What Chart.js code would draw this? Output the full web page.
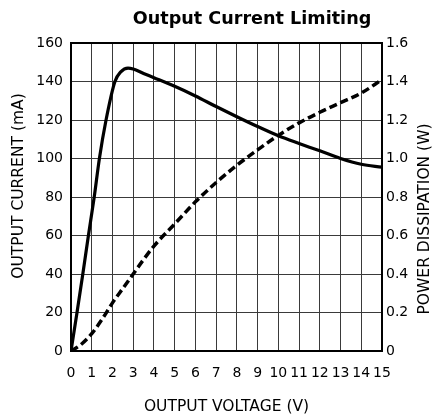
<!doctype html>
<html lang="en">
<head>
  <meta charset="utf-8">
  <title>Output Current Limiting</title>
  <style>
    html, body { margin: 0; padding: 0; background: #fff; }
    #wrap { width: 437px; height: 419px; }
  </style>
</head>
<body>
  <div id="wrap"><canvas id="myChart"></canvas></div>
  <script src="https://cdn.jsdelivr.net/npm/chart.js"></script>
  <script>
    // output current (mA) vs output voltage (V)
    const currentVolts = [0, 0.29, 0.57, 0.84, 1.12, 1.37, 1.69, 2.12, 2.4, 2.75, 3.0, 3.5, 4, 5, 6, 7, 8, 9, 10, 11, 12, 13, 14, 15];
    const currentMA = [0, 20, 40, 60, 80, 100, 120, 140, 145, 147, 146.5, 144.2, 142, 137.5, 132.5, 127, 121.7, 116.6, 111.8, 107.8, 104, 100, 97, 95.5];

    // power dissipation (W) vs output voltage (V)
    const powerVolts = [0, 0.5, 1, 1.5, 2, 2.5, 3, 3.5, 4, 5, 6, 7, 8, 9, 10, 11, 12, 13, 14, 15];
    const powerW = [0, 0.035, 0.09, 0.165, 0.25, 0.325, 0.4, 0.475, 0.545, 0.66, 0.775, 0.875, 0.965, 1.045, 1.12, 1.185, 1.24, 1.29, 1.34, 1.41];

    const titleText = 'Output Current Limiting';
    const xTitle = 'OUTPUT VOLTAGE (V)';
    const yTitle = 'OUTPUT CURRENT (mA)';
    const y1Title = 'POWER DISSIPATION (W)';

    const toPoints = (xs, ys) => xs.map((x, i) => ({ x: x, y: ys[i] }));

    const tickFont = { family: 'DejaVu Sans', size: 14 };
    const gridColor = '#3a3a3a';

    // title, vertical axis titles and frame
    const decor = {
      id: 'decor',
      afterDraw(chart) {
        const ctx = chart.ctx;
        const a = chart.chartArea;
        ctx.save();
        ctx.strokeStyle = '#000';
        ctx.lineWidth = 2;
        ctx.strokeRect(a.left, a.top, a.right - a.left, a.bottom - a.top);

        ctx.fillStyle = '#000';
        ctx.textAlign = 'center';
        ctx.textBaseline = 'alphabetic';
        ctx.font = 'bold 17.6px "DejaVu Sans"';
        ctx.fillText(titleText, 252, 24);

        ctx.font = '15.5px "DejaVu Sans"';
        ctx.textBaseline = 'middle';
        ctx.translate(19, 186);
        ctx.rotate(-Math.PI / 2);
        ctx.fillText(yTitle, 0, 0);
        ctx.restore();

        ctx.save();
        ctx.fillStyle = '#000';
        ctx.textAlign = 'center';
        ctx.textBaseline = 'middle';
        ctx.font = '15.5px "DejaVu Sans"';
        ctx.translate(425, 219);
        ctx.rotate(-Math.PI / 2);
        ctx.fillText(y1Title, 0, 0);
        ctx.restore();
      }
    };

    const config = {
      type: 'scatter',
      data: {
        datasets: [
          {
            label: 'Current',
            data: toPoints(currentVolts, currentMA),
            yAxisID: 'y',
            showLine: true,
            borderColor: '#000',
            borderWidth: 3.2,
            pointRadius: 0,
            cubicInterpolationMode: 'monotone'
          },
          {
            label: 'Power',
            data: toPoints(powerVolts, powerW),
            yAxisID: 'y1',
            showLine: true,
            borderColor: '#000',
            borderWidth: 3.5,
            borderDash: [8, 4],
            pointRadius: 0,
            cubicInterpolationMode: 'monotone'
          }
        ]
      },
      options: {
        responsive: true,
        maintainAspectRatio: false,
        animation: false,
        layout: { padding: { top: 43, left: 0, right: 0, bottom: 0 } },
        plugins: {
          legend: { display: false },
          tooltip: { enabled: false }
        },
        scales: {
          x: {
            type: 'linear',
            min: 0,
            max: 15,
            afterFit: s => { s.height = 68; },
            ticks: { stepSize: 1, padding: 14, color: '#000', font: tickFont, maxRotation: 0, autoSkip: false },
            grid: { color: gridColor, lineWidth: 1, drawTicks: false },
            border: { display: false },
            title: { display: true, text: xTitle, color: '#000', font: { family: 'DejaVu Sans', size: 15.5 }, padding: { top: 0, bottom: 3 } }
          },
          y: {
            position: 'left',
            min: 0,
            max: 160,
            afterFit: s => { s.width = 71; },
            ticks: { stepSize: 20, padding: 8, color: '#000', font: tickFont },
            grid: { color: gridColor, lineWidth: 1, drawTicks: false },
            border: { display: false }
          },
          y1: {
            position: 'right',
            min: 0,
            max: 1.6,
            afterFit: s => { s.width = 55; },
            ticks: {
              stepSize: 0.2,
              padding: 4,
              color: '#000',
              font: tickFont,
              callback: v => (Math.abs(v) < 1e-9 ? '0' : v.toFixed(1))
            },
            grid: { drawOnChartArea: false, drawTicks: false },
            border: { display: false }
          }
        }
      },
      plugins: [decor]
    };

    new Chart(document.getElementById('myChart'), config);
  </script>
</body>
</html>
